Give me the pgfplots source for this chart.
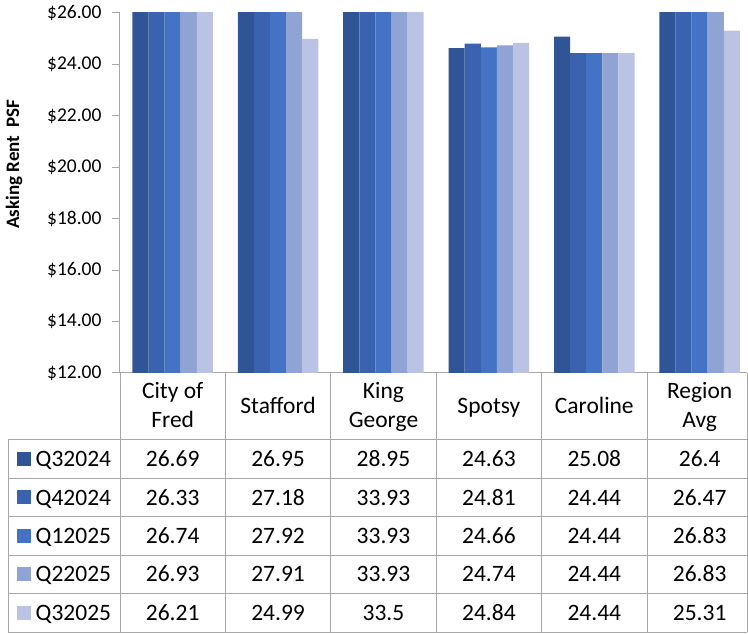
\documentclass[border=0pt]{standalone}
\usepackage{pgfplots}
\pgfplotsset{compat=1.18}
\usepackage{fontspec}
\setmainfont{Carlito}
\definecolor{cA}{HTML}{2F5597}
\definecolor{cB}{HTML}{3A62AE}
\definecolor{cC}{HTML}{4472C4}
\definecolor{cD}{HTML}{8FA3D4}
\definecolor{cE}{HTML}{BAC3E3}
\definecolor{tline}{HTML}{A6A6A6}
\begin{document}
\begin{tikzpicture}[x=1pt,y=1pt]
\begin{axis}[
  at={(120pt,260pt)}, anchor=south west,
  scale only axis, width=627pt, height=360pt,
  xmin=-0.5, xmax=5.449, ymin=12, ymax=26,
  axis x line*=bottom, axis y line*=left,
  axis line style={-, draw=tline, line width=1pt},
  xtick=\empty,
  ytick={12,14,...,26},
  tick align=outside, major tick length=8pt,
  every tick/.style={draw=tline, line width=1pt},
  /pgf/number format/assume math mode=true,
  yticklabel={\$\pgfmathprintnumber[fixed,fixed zerofill,precision=2]{\tick}},
  yticklabel style={font=\fontsize{19.5}{23}\selectfont, text=black, xshift=-7pt},
  ybar=0pt, bar width=16.1pt,
]
\addplot[fill=cA, draw=none] coordinates {(0,26.69) (1,26.95) (2,28.95) (3,24.63) (4,25.08) (5,26.4)};
\addplot[fill=cB, draw=none] coordinates {(0,26.33) (1,27.18) (2,33.93) (3,24.81) (4,24.44) (5,26.47)};
\addplot[fill=cC, draw=none] coordinates {(0,26.74) (1,27.92) (2,33.93) (3,24.66) (4,24.44) (5,26.83)};
\addplot[fill=cD, draw=none] coordinates {(0,26.93) (1,27.91) (2,33.93) (3,24.74) (4,24.44) (5,26.83)};
\addplot[fill=cE, draw=none] coordinates {(0,26.21) (1,24.99) (2,33.5) (3,24.84) (4,24.44) (5,25.31)};
\end{axis}
% y label
\node[rotate=90, inner sep=0pt] at (14,633-164) {\fontsize{19}{23}\selectfont\bfseries Asking Rent\ \ PSF};
% table lines
\begin{scope}[draw=tline, line width=1pt]
\foreach \y in {440,478.4,516.8,555.2,593.6,632} \draw (8,633-\y) -- (747,633-\y);
\draw (8,633-440) -- (8,633-632);
\foreach \x in {120,225.4,330.8,436.2,541.6,647,747} \draw (\x,633-373) -- (\x,633-632);
\end{scope}
% category labels
\begin{scope}[every node/.style={anchor=base, inner sep=0pt, font=\fontsize{23.5}{28}\selectfont}]
\node at (172.7,633-399) {City of}; \node at (172.7,633-428) {Fred};
\node at (278.1,633-413.3) {Stafford};
\node at (383.5,633-399) {King}; \node at (383.5,633-428) {George};
\node at (488.9,633-413.3) {Spotsy};
\node at (594.3,633-413.3) {Caroline};
\node at (699.7,633-399) {Region}; \node at (699.7,633-428) {Avg};
% legend
\foreach \c/\n [count=\i from 0] in {cA/Q32024,cB/Q42024,cC/Q12025,cD/Q22025,cE/Q32025} {
  \fill[\c] (17,633-452-38.4*\i) rectangle (31,633-466-38.4*\i);
  \node[anchor=base west] at (35.5,633-466.6-38.4*\i) {\n};
}
% values
\foreach \r/\a/\b/\cc/\d/\e/\f [count=\i from 0] in {
  0/26.69/26.95/28.95/24.63/25.08/26.4,
  1/26.33/27.18/33.93/24.81/24.44/26.47,
  2/26.74/27.92/33.93/24.66/24.44/26.83,
  3/26.93/27.91/33.93/24.74/24.44/26.83,
  4/26.21/24.99/33.5/24.84/24.44/25.31} {
  \node at (172.7,633-466.6-38.4*\i) {\a};
  \node at (278.1,633-466.6-38.4*\i) {\b};
  \node at (383.5,633-466.6-38.4*\i) {\cc};
  \node at (488.9,633-466.6-38.4*\i) {\d};
  \node at (594.3,633-466.6-38.4*\i) {\e};
  \node at (699.7,633-466.6-38.4*\i) {\f};
}
\end{scope}
\pgfresetboundingbox
\useasboundingbox (0,0) rectangle (748,633);
\end{tikzpicture}
\end{document}
